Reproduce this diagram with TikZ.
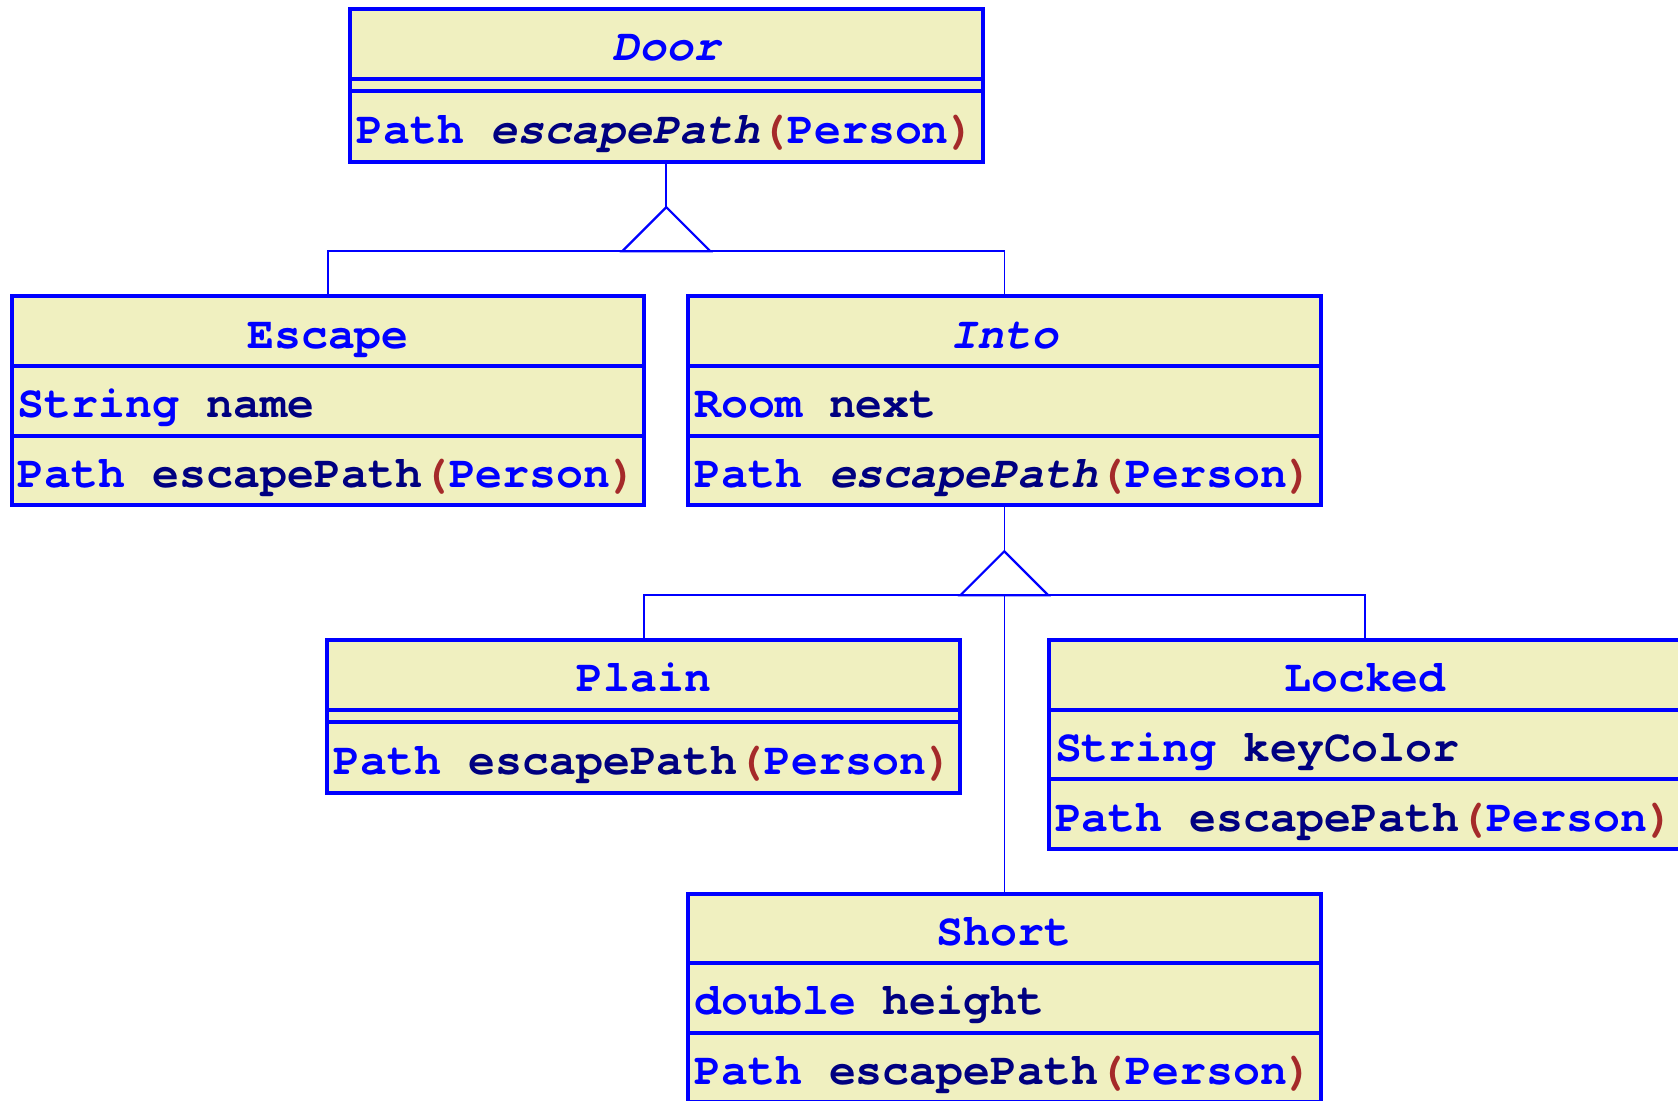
\documentclass[tikz,border=0pt]{standalone}
\usepackage{fontspec}
\usetikzlibrary{positioning}
\newfontfamily\umlfont{texgyrecursor}[Extension=.otf, UprightFont=*-regular, BoldFont=*-bold,
    ItalicFont=*-italic, BoldItalicFont=*-bolditalic]
\definecolor{umlblue}{RGB}{0,0,255}
\definecolor{umlnavy}{RGB}{0,0,128}
\definecolor{umlbrown}{RGB}{165,42,42}
\definecolor{umlfill}{RGB}{240,240,192}
\newcommand{\umlty}[1]{\textcolor{umlblue}{#1}}
\newcommand{\umlid}[1]{\textcolor{umlnavy}{#1}}
\newcommand{\umlsp}{\hspace*{0.6em}}
\newcommand{\escpath}[1][\upshape]{\umlty{Path}\umlsp\umlid{#1escapePath}\textcolor{umlbrown}{(}\umlty{Person}\textcolor{umlbrown}{)}}

\begin{document}
\begin{tikzpicture}[x=0.5pt, y=-0.5pt,
    umlbox/.style={draw=umlblue, fill=umlfill, line width=2pt, outer sep=0pt,
        minimum width=316.25pt, minimum height=34.8pt, inner xsep=3.125pt, inner ysep=0pt,
        text height=17pt, text depth=0pt, font=\umlfont\bfseries\fontsize{22.45}{26}\selectfont},
    umlname/.style={umlbox, text=umlblue},
    umlpart/.style={umlbox, text width=310pt, align=left},
    umlempty/.style={umlbox, minimum height=6.2pt, text height=0pt},
    inherit/.style={draw=umlblue, line width=0.8pt},
    umltri/.style={draw=umlblue, line width=1.1pt, fill=white}]
    \useasboundingbox (0,0) rectangle (1678,1101);

    % abstract base class
    \node[umlname, anchor=north] (door) at (666.25,9) {\itshape Door};
    \node[umlempty, below=0pt of door] (door-attr) {};
    \node[umlpart, below=0pt of door-attr, minimum height=35.6pt] (door-ops) {\escpath[\itshape]};

    % first level
    \node[umlname, anchor=north] (escape) at (328,296.5) {Escape};
    \node[umlpart, below=0pt of escape] (escape-attr) {\umlty{String}\umlsp\umlid{name}};
    \node[umlpart, below=0pt of escape-attr] (escape-ops) {\escpath};

    \node[umlname, anchor=north] (into) at (1004.3,296.5) {\itshape Into};
    \node[umlpart, below=0pt of into] (into-attr) {\umlty{Room}\umlsp\umlid{next}};
    \node[umlpart, below=0pt of into-attr] (into-ops) {\escpath[\itshape]};

    % second level
    \node[umlname, anchor=north] (plain) at (643.7,640) {Plain};
    \node[umlempty, below=0pt of plain] (plain-attr) {};
    \node[umlpart, below=0pt of plain-attr, minimum height=35.6pt] (plain-ops) {\escpath};

    \node[umlname, anchor=north] (locked) at (1365,640) {Locked};
    \node[umlpart, below=0pt of locked] (locked-attr) {\umlty{String}\umlsp\umlid{keyColor}};
    \node[umlpart, below=0pt of locked-attr] (locked-ops) {\escpath};

    \node[umlname, anchor=north] (short) at (1004.3,893.5) {Short};
    \node[umlpart, below=0pt of short] (short-attr) {\umlty{double}\umlsp\umlid{height}};
    \node[umlpart, below=0pt of short-attr] (short-ops) {\escpath};

    % generalisation Door
    \draw[inherit] (door-ops.south) -- ++(0,45) coordinate (door-tip);
    \path (door-tip) ++(0,44) coordinate (door-base);
    \draw[inherit] (escape.north) |- (door-base) -| (into.north);
    \draw[umltri] (door-tip) -- ++(44,44) -- ++(-88,0) -- cycle;

    % generalisation Into
    \draw[inherit] (into-ops.south) -- ++(0,46) coordinate (into-tip);
    \path (into-tip) ++(0,44) coordinate (into-base);
    \draw[inherit] (plain.north) |- (into-base) -| (locked.north);
    \draw[inherit] (into-base) -- (short.north);
    \draw[umltri] (into-tip) -- ++(44,44) -- ++(-88,0) -- cycle;
\end{tikzpicture}
\end{document}
